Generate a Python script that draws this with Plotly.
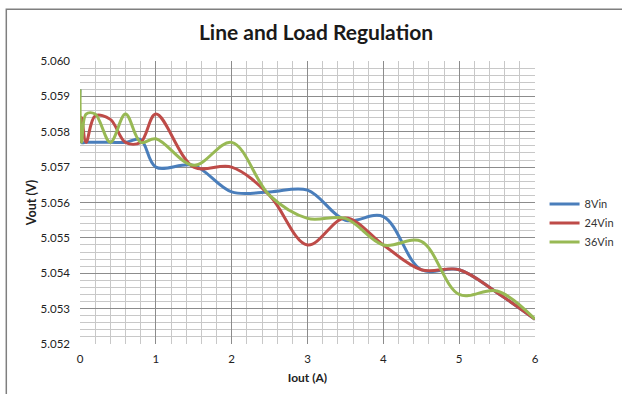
import plotly.graph_objects as go

iout = [0, 0.02, 0.08, 0.2, 0.4, 0.6, 0.8, 1.0, 1.5, 2.0, 2.5, 3.0, 3.5, 4.0, 4.5, 5.0, 5.5, 6.0]
vout_8vin = [5.0592, 5.0577, 5.0577, 5.0577, 5.0577, 5.0577, 5.05778, 5.0570, 5.05705, 5.0563,
             5.0563, 5.05635, 5.0555, 5.0556, 5.0541, 5.0541, 5.05345, 5.0527]
vout_24vin = [5.0577, 5.0584, 5.0577, 5.05845, 5.05835, 5.0577, 5.0577, 5.0585, 5.0570, 5.0570,
              5.0562, 5.0548, 5.05556, 5.0548, 5.0541, 5.0541, 5.05345, 5.0527]
vout_36vin = [5.0592, 5.0577, 5.0585, 5.0585, 5.0577, 5.0585, 5.0577, 5.0578, 5.05705, 5.0577,
              5.0562, 5.05555, 5.05555, 5.0548, 5.0549, 5.0534, 5.0535, 5.0527]
series_names = ["8Vin", "24Vin", "36Vin"]
series_colors = ["#4a7ebb", "#be4b48", "#98b954"]
y_ticks = [5.052, 5.053, 5.054, 5.055, 5.056, 5.057, 5.058, 5.059, 5.060]
x_ticks = [0, 1, 2, 3, 4, 5, 6]

font_family = "Lato, 'Open Sans', sans-serif"

fig = go.Figure()
for name, ys, col in zip(series_names, [vout_8vin, vout_24vin, vout_36vin], series_colors):
    fig.add_trace(go.Scatter(x=iout, y=ys, name=name, mode="lines",
                             line=dict(color=col, width=3, shape="spline", smoothing=1.0)))

fig.update_layout(
    width=622, height=394,
    margin=dict(l=80, r=87, t=61, b=50, autoexpand=False),
    paper_bgcolor="white", plot_bgcolor="white",
    font=dict(family=font_family, size=11, color="#333333"),
    title=dict(text="<b>Line and Load Regulation</b>", x=316 / 622, xanchor="center",
               y=1 - 33 / 394, yanchor="middle",
               font=dict(family=font_family, size=21, color="#1a1a1a")),
    showlegend=True,
    legend=dict(x=1.021, xanchor="left", y=(344 - 223) / 283, yanchor="middle",
                font=dict(size=11, color="#333333"), bgcolor="rgba(0,0,0,0)",
                tracegroupgap=0, itemwidth=30),
    xaxis=dict(range=[0, 6], tickvals=x_ticks, ticks="", showline=False, zeroline=False,
               showgrid=True, gridcolor="#8c8c8c", gridwidth=1,
               minor=dict(dtick=0.2, showgrid=True, gridcolor="#c8c8c8", gridwidth=1.3),
               tickfont=dict(size=11.5, color="#222222"), ticklabelstandoff=6,
               title=dict(text="<b>Iout (A)</b>", font=dict(size=12, color="#222222"), standoff=10)),
    yaxis=dict(range=[5.052, 5.060], tickvals=y_ticks, tickformat=".3f", ticks="",
               showline=False, zeroline=False,
               showgrid=True, gridcolor="#8c8c8c", gridwidth=1,
               minor=dict(dtick=0.0002, showgrid=True, gridcolor="#c8c8c8", gridwidth=1.3),
               tickfont=dict(size=11.5, color="#222222"), ticklabelstandoff=9,
               title=dict(text="<b>Vout (V)</b>", font=dict(size=12.5, color="#222222"), standoff=1)),
)

# outer chart-area border (top and left visible in reference)
fig.add_shape(type="rect", xref="paper", yref="paper",
              x0=(6.3 - 80) / 455, x1=(630 - 80) / 455,
              y0=(344 - 400) / 283, y1=(344 - 9.3) / 283,
              line=dict(color="#7f7f7f", width=1.5), fillcolor="rgba(0,0,0,0)", layer="below")

fig.write_html("out.html", config={"displayModeBar": False},
               post_script="document.body.style.margin='0';document.body.style.padding='0';"
                           "document.documentElement.style.overflow='hidden';")
